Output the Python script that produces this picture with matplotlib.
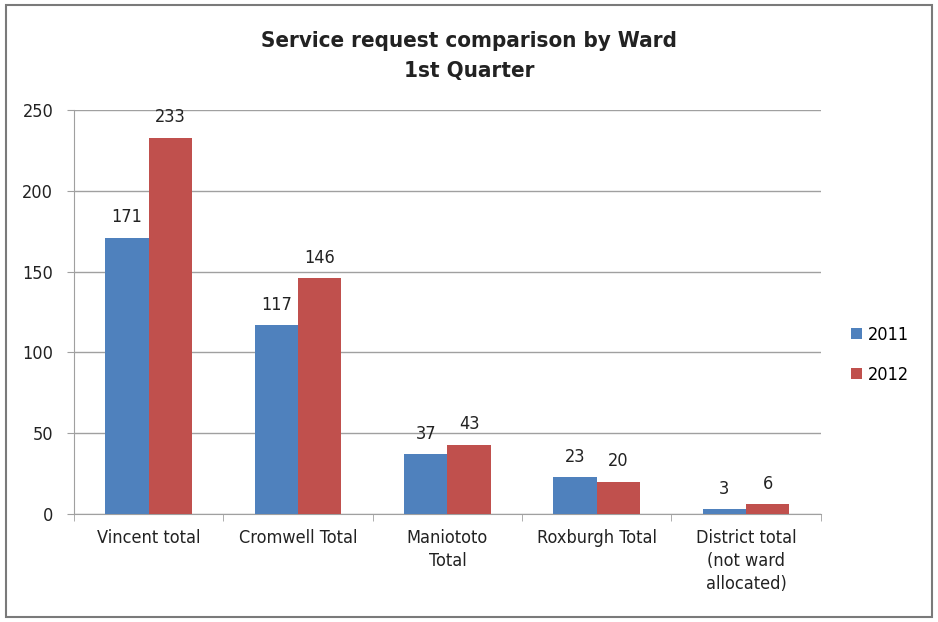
import matplotlib
matplotlib.use('Agg')
import matplotlib.pyplot as plt
import numpy as np
from matplotlib.patches import Rectangle

plt.rcParams['font.family'] = ['DejaVu Sans']
plt.rcParams['font.stretch'] = 'condensed'

wards = ['Vincent total', 'Cromwell Total', 'Maniototo\nTotal', 'Roxburgh Total',
         'District total\n(not ward\nallocated)']
req_2011 = [171, 117, 37, 23, 3]
req_2012 = [233, 146, 43, 20, 6]
years = ['2011', '2012']
colors = ['#4F81BD', '#C0504D']

fig = plt.figure(figsize=(9.38, 6.22), dpi=100)
ax = fig.add_axes([0.079, 0.1736, 0.796, 0.6495])

x = np.arange(len(wards))
w = 0.29
b1 = ax.bar(x - w / 2, req_2011, w, color=colors[0], label=years[0], zorder=3)
b2 = ax.bar(x + w / 2, req_2012, w, color=colors[1], label=years[1], zorder=3)

for bars, vals in [(b1, req_2011), (b2, req_2012)]:
    for r, v in zip(bars, vals):
        ax.text(r.get_x() + r.get_width() / 2, v + 7, str(v), ha='center', va='bottom',
                fontsize=13, color='#222222')

ax.set_xlim(-0.5, len(wards) - 0.5)
ax.set_ylim(0, 250)
ax.set_yticks(range(0, 251, 50))
ax.yaxis.grid(True, color='#a0a0a0', linewidth=1, zorder=0)
ax.set_axisbelow(True)
for s in ['top', 'right']:
    ax.spines[s].set_visible(False)
ax.spines['left'].set_color('#a0a0a0')
ax.spines['bottom'].set_color('#a0a0a0')

ax.set_xticks(x)
ax.set_xticklabels(wards, fontsize=13, color='#222222', va='top', linespacing=1.35)
ax.tick_params(axis='x', length=0, pad=11)
ax.set_xticks(np.arange(-0.5, len(wards)), minor=True)
ax.tick_params(axis='x', which='minor', length=5, color='#a0a0a0')
ax.tick_params(axis='y', length=5, color='#a0a0a0', labelsize=13, labelcolor='#222222', pad=10)

fig.suptitle('Service request comparison by Ward\n1st Quarter', y=0.95, fontsize=16,
             fontweight='bold', color='#222222', linespacing=1.6)

ax.legend(loc='center left', bbox_to_anchor=(1.019, 0.394), frameon=False, fontsize=13,
          handlelength=0.6, handleheight=0.6, handletextpad=0.35, labelspacing=1.2)

fig.patches.append(Rectangle((0.006, 0.008), 0.988, 0.984, transform=fig.transFigure,
                             fill=False, edgecolor='#7a7a7a', linewidth=1.5))

fig.savefig('out.png', dpi=100)
